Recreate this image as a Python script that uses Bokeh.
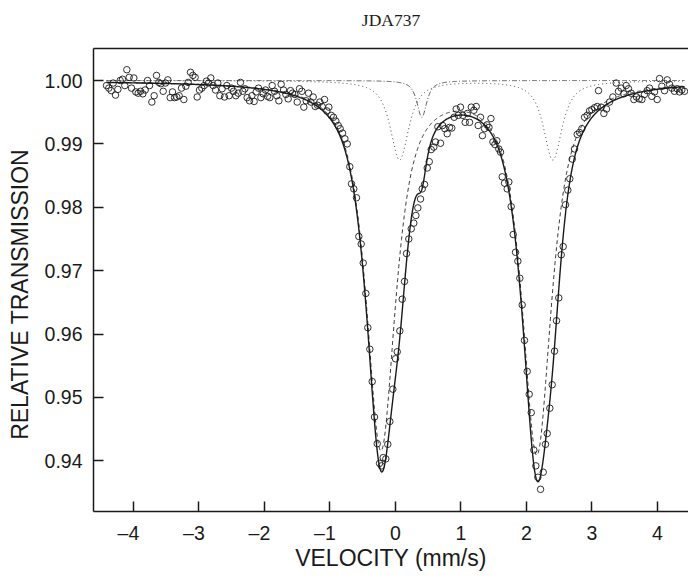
import numpy as np
from bokeh.plotting import figure
from bokeh.models import Range1d, FixedTicker, LinearAxis, NumeralTickFormatter
from bokeh.embed import file_html
from bokeh.resources import INLINE

# ---- measured spectrum (velocity in mm/s, relative transmission) ----
velocity = [
    -4.409, -4.374, -4.338, -4.307, -4.272, -4.236, -4.201, -4.165, -4.130, -4.099,
    -4.063, -4.028, -3.992, -3.962, -3.926, -3.890, -3.855, -3.819, -3.783, -3.753,
    -3.717, -3.682, -3.646, -3.611, -3.580, -3.544, -3.509, -3.473, -3.437, -3.402,
    -3.371, -3.336, -3.300, -3.264, -3.229, -3.198, -3.163, -3.127, -3.091, -3.056,
    -3.025, -2.990, -2.954, -2.918, -2.883, -2.852, -2.817, -2.781, -2.745, -2.710,
    -2.679, -2.644, -2.608, -2.572, -2.537, -2.501, -2.471, -2.435, -2.399, -2.364,
    -2.328, -2.297, -2.262, -2.226, -2.190, -2.155, -2.124, -2.089, -2.053, -2.017,
    -1.982, -1.951, -1.916, -1.880, -1.844, -1.809, -1.778, -1.743, -1.707, -1.671,
    -1.636, -1.600, -1.570, -1.534, -1.498, -1.463, -1.427, -1.397, -1.361, -1.325,
    -1.290, -1.254, -1.223, -1.188, -1.152, -1.117, -1.081, -1.045, -1.015, -0.979,
    -0.944, -0.908, -0.872, -0.842, -0.806, -0.770,
    -0.734, -0.695, -0.669, -0.634, -0.593, -0.557, -0.521, -0.490, -0.450, -0.420,
    -0.389, -0.353, -0.318, -0.276, -0.241, -0.213, -0.185, -0.145, -0.115, -0.084,
    -0.038, 0.003, 0.029, 0.069, 0.105, 0.140, 0.171, 0.206, 0.243, 0.282,
    0.314, 0.344, 0.385, 0.411, 0.446, 0.487, 0.518, 0.548, 0.588, 0.614,
    0.650, 0.690, 0.722, 0.756, 0.792, 0.827, 0.862, 0.898, 0.929, 0.962,
    0.995, 1.031, 1.067, 1.100, 1.133, 1.160, 1.199, 1.235, 1.265, 1.300,
    1.330, 1.362, 1.400, 1.430, 1.460, 1.490,
    1.520, 1.550, 1.580, 1.606, 1.632, 1.667, 1.708, 1.733, 1.769, 1.800,
    1.835, 1.871, 1.901, 1.937, 1.972, 2.013, 2.044, 2.075, 2.115, 2.145,
    2.176, 2.217, 2.258, 2.293, 2.319, 2.359, 2.395, 2.431, 2.461, 2.496,
    2.533, 2.563, 2.598, 2.634, 2.664, 2.701, 2.736, 2.777,
    2.812, 2.848, 2.889, 2.929, 2.965, 3.000, 3.041, 3.082, 3.102, 3.143,
    3.184, 3.224, 3.270, 3.321, 3.372, 3.407, 3.448, 3.489, 3.524, 3.560,
    3.601, 3.642, 3.682, 3.723, 3.764, 3.804, 3.845, 3.881, 3.916, 3.957,
    3.998, 4.034, 4.069, 4.110, 4.151, 4.186, 4.222, 4.262, 4.303, 4.339,
    4.374, 4.415,
]
transmission = [
    0.9992, 0.9988, 0.9984, 0.9996, 0.9977, 0.9986, 1.0000, 1.0002, 0.9992, 1.0017,
    1.0005, 0.9988, 1.0004, 0.9982, 0.9980, 0.9983, 0.9979, 0.9985, 1.0000, 0.9992,
    0.9966, 0.9976, 1.0008, 0.9997, 0.9995, 0.9983, 0.9996, 1.0001, 0.9973, 0.9982,
    0.9973, 0.9974, 0.9976, 0.9988, 0.9970, 0.9991, 0.9997, 1.0013, 1.0008, 1.0005,
    0.9974, 0.9985, 0.9988, 0.9992, 0.9999, 0.9996, 1.0004, 0.9992, 0.9985, 0.9996,
    0.9976, 0.9987, 0.9974, 0.9992, 0.9976, 0.9988, 0.9983, 0.9976, 0.9980, 0.9997,
    0.9983, 0.9987, 0.9973, 0.9968, 0.9976, 0.9967, 0.9982, 0.9988, 0.9973, 0.9979,
    0.9985, 0.9975, 0.9973, 0.9992, 0.9983, 0.9976, 0.9968, 0.9994, 0.9985, 0.9978,
    0.9971, 0.9984, 0.9980, 0.9978, 0.9966, 0.9987, 0.9983, 0.9958, 0.9968, 0.9980,
    0.9966, 0.9974, 0.9959, 0.9961, 0.9966, 0.9959, 0.9970, 0.9952, 0.9958, 0.9945,
    0.9942, 0.9936, 0.9929, 0.9924, 0.9917, 0.9908,
    0.9900, 0.9864, 0.9837, 0.9829, 0.9815, 0.9754, 0.9742, 0.9712, 0.9664, 0.9610,
    0.9576, 0.9525, 0.9469, 0.9427, 0.9396, 0.9392, 0.9405, 0.9403, 0.9426, 0.9462,
    0.9513, 0.9561, 0.9572, 0.9605, 0.9655, 0.9683, 0.9727, 0.9750, 0.9766, 0.9775,
    0.9787, 0.9799, 0.9813, 0.9829, 0.9836, 0.9862, 0.9872, 0.9891, 0.9895, 0.9903,
    0.9927, 0.9901, 0.9929, 0.9924, 0.9916, 0.9926, 0.9925, 0.9942, 0.9955, 0.9945,
    0.9958, 0.9945, 0.9934, 0.9948, 0.9934, 0.9958, 0.9953, 0.9959, 0.9929, 0.9942,
    0.9913, 0.9924, 0.9930, 0.9926, 0.9940, 0.9903,
    0.9899, 0.9905, 0.9892, 0.9887, 0.9848, 0.9838, 0.9829, 0.9840, 0.9801, 0.9757,
    0.9729, 0.9715, 0.9688, 0.9646, 0.9590, 0.9541, 0.9505, 0.9476, 0.9417, 0.9392,
    0.9374, 0.9355, 0.9382, 0.9426, 0.9443, 0.9483, 0.9520, 0.9573, 0.9621, 0.9657,
    0.9725, 0.9738, 0.9804, 0.9827, 0.9845, 0.9876, 0.9892, 0.9915,
    0.9918, 0.9924, 0.9942, 0.9945, 0.9952, 0.9954, 0.9957, 0.9959, 0.9984, 0.9958,
    0.9948, 0.9955, 0.9966, 0.9974, 0.9996, 0.9983, 0.9988, 0.9979, 0.9992, 0.9987,
    0.9980, 0.9970, 0.9974, 0.9971, 0.9970, 0.9978, 0.9984, 0.9988, 0.9975, 0.9982,
    0.9970, 1.0003, 0.9991, 0.9984, 1.0001, 0.9994, 0.9988, 0.9983, 0.9987, 0.9982,
    0.9985, 0.9983,
]

# ---- fitted components (line positions, depths, half widths) ----
baseline = 1.0
main_centers = [-0.22, 2.16]        # dashed doublet
main_depths = [0.0578, 0.0585]
main_hwhm = 0.27
shoulder_centers = [0.065, 2.405]   # dotted doublet
shoulder_depths = [0.0125, 0.0125]
shoulder_hwhm = 0.17
minor_centers = [0.405]             # dash-dot line
minor_depths = [0.0058]
minor_hwhm = 0.09
lorentz_fraction = 0.85

x_ticks = [-4, -3, -2, -1, 0, 1, 2, 3, 4]
y_ticks = [0.94, 0.95, 0.96, 0.97, 0.98, 0.99, 1.00]
title_text = "JDA737"
x_title = "VELOCITY (mm/s)"
y_title = "RELATIVE TRANSMISSION"


def absorption(v, centers, depths, hwhm):
    total = np.zeros_like(v)
    for c, d in zip(centers, depths):
        z = (v - c) / hwhm
        total += d * (lorentz_fraction / (1.0 + z ** 2)
                      + (1.0 - lorentz_fraction) * np.exp(-np.log(2.0) * z ** 2))
    return total


v = np.linspace(min(velocity), max(velocity), 1500)
a_main = absorption(v, main_centers, main_depths, main_hwhm)
a_sh = absorption(v, shoulder_centers, shoulder_depths, shoulder_hwhm)
a_min = absorption(v, minor_centers, minor_depths, minor_hwhm)

INK = "#1a1a1a"
SANS = "Liberation Sans"

p = figure(width=688, height=579,
           x_range=Range1d(-4.608, 4.476), y_range=Range1d(0.9320, 1.00505),
           output_backend="svg", toolbar_location=None,
           min_border_left=93, min_border_right=0, min_border_top=48, min_border_bottom=68,
           x_axis_label=x_title, y_axis_label=y_title + "\u2003\u2005")
p.outline_line_color = None
p.grid.visible = False
p.background_fill_color = "white"

# component curves
p.line(v, baseline - a_min, line_color="#333333", line_width=0.8, line_dash="5 2 1 2")
p.line(v, baseline - a_sh, line_color="#333333", line_width=0.9, line_dash="1 3")
p.line(v, baseline - a_main, line_color="#222222", line_width=0.9, line_dash="4 3")
# total fit
p.line(v, baseline - (a_main + a_sh + a_min), line_color=INK, line_width=1.4)
# data
p.scatter(velocity, transmission, marker="circle", size=6.5,
          fill_color=None, line_color=INK, line_width=0.9)

for ax in (p.xaxis[0], p.yaxis[0]):
    ax.axis_line_width = 1.5
    ax.axis_line_color = INK
    ax.major_tick_in = 10
    ax.major_tick_out = 0
    ax.major_tick_line_width = 1.5
    ax.major_tick_line_color = INK
    ax.minor_tick_line_color = None
    ax.major_label_text_font = SANS
    ax.major_label_text_font_size = "19.5px"
    ax.major_label_text_color = INK
    ax.axis_label_text_font = SANS
    ax.axis_label_text_font_size = "23px"
    ax.axis_label_text_font_style = "normal"
    ax.axis_label_text_color = INK

p.xaxis[0].ticker = FixedTicker(ticks=x_ticks)
p.xaxis[0].major_label_overrides = {t: ("\u2013%d\u2002" % -t if t < 0 else "%d" % t) for t in x_ticks}
p.xaxis[0].major_label_standoff = 10
p.xaxis[0].axis_label_standoff = -2

p.yaxis[0].ticker = FixedTicker(ticks=y_ticks)
p.yaxis[0].formatter = NumeralTickFormatter(format="0.00")
p.yaxis[0].major_label_standoff = 11
p.yaxis[0].axis_label_standoff = 9

# top frame line carrying the chart title
top = LinearAxis(ticker=FixedTicker(ticks=[]), axis_line_width=1.5, axis_line_color=INK,
                 major_tick_line_color=None, minor_tick_line_color=None,
                 major_label_text_font_size="0px", major_label_standoff=0,
                 axis_label=title_text, axis_label_standoff=19,
                 axis_label_text_font="Liberation Serif", axis_label_text_font_size="17.5px",
                 axis_label_text_font_style="normal", axis_label_text_color=INK)
p.add_layout(top, "above")

open("out.html", "w").write(file_html(p, INLINE))
